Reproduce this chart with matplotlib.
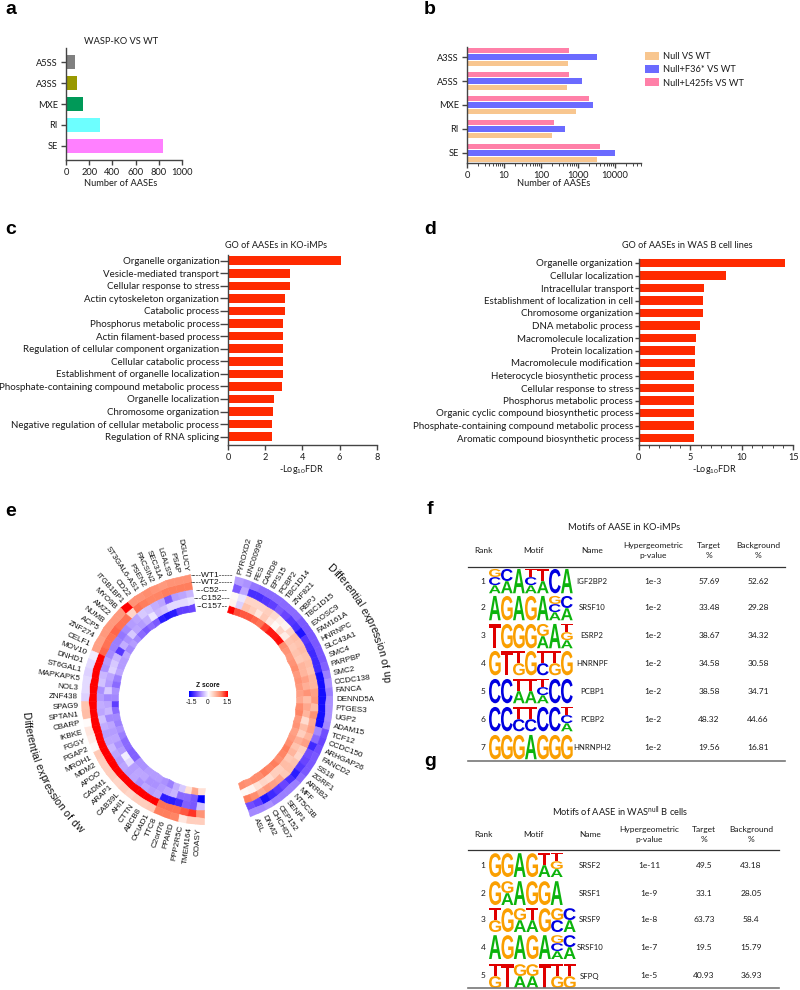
import numpy as np
import matplotlib
matplotlib.use('Agg')
import matplotlib.pyplot as plt
from matplotlib.colors import LinearSegmentedColormap
from matplotlib.font_manager import FontProperties
from matplotlib.patches import PathPatch, Rectangle
from matplotlib.textpath import TextPath, text_to_path
from matplotlib.ticker import LogLocator, NullFormatter
from matplotlib.transforms import Affine2D

W, H = 800, 990

# panel a
a_events = ['SE', 'RI', 'MXE', 'A3SS', 'A5SS']
a_counts = [840, 295, 150, 92, 80]
a_colors = ['#ff80ff', '#6dffff', '#009958', '#999900', '#808080']

# panel b
b_events = ['SE', 'RI', 'MXE', 'A5SS', 'A3SS']
b_null = [3300, 195, 870, 490, 525]
b_f36 = [10200, 437, 2600, 1250, 3250]
b_l425 = [3900, 225, 1950, 570, 570]
b_series = ['Null VS WT', 'Null+F36* VS WT', 'Null+L425fs VS WT']
b_colors = ['#f8c68f', '#6b6bff', '#ff80a8']

# panel c
c_terms = ['Organelle organization', 'Vesicle-mediated transport', 'Cellular response to stress',
           'Actin cytoskeleton organization', 'Catabolic process', 'Phosphorus metabolic process',
           'Actin filament-based process', 'Regulation of cellular component organization',
           'Cellular catabolic process', 'Establishment of organelle localization',
           'Phosphate-containing compound metabolic process', 'Organelle localization',
           'Chromosome organization', 'Negative regulation of cellular metabolic process',
           'Regulation of RNA splicing']
c_vals = [6.1, 3.35, 3.35, 3.07, 3.05, 2.95, 2.95, 2.95, 2.93, 2.93, 2.88, 2.45, 2.43, 2.35, 2.33]

# panel d
d_terms = ['Organelle organization', 'Cellular localization', 'Intracellular transport',
           'Establishment of localization in cell', 'Chromosome organization',
           'DNA metabolic process', 'Macromolecule localization', 'Protein localization',
           'Macromolecule modification', 'Heterocycle biosynthetic process',
           'Cellular response to stress', 'Phosphorus metabolic process',
           'Organic cyclic compound biosynthetic process',
           'Phosphate-containing compound metabolic process',
           'Aromatic compound biosynthetic process']
d_vals = [14.2, 8.5, 6.3, 6.25, 6.2, 5.9, 5.6, 5.45, 5.45, 5.38, 5.38, 5.35, 5.33, 5.33, 5.33]

# panel e, left sector from the top going anticlockwise
left_genes = ['DGLUCY', 'PSAP', 'LGALS9', 'SEC31A', 'PACSIN2', 'PSEN2', 'ST3GAL6-AS1', 'CD22',
              'ITGB1BP1', 'MYO9B', 'AMZ2', 'NUMB', 'ACP5', 'ZNF274', 'CELF1', 'MOV10', 'DNHD1',
              'ST6GAL1', 'MAPKAPK5', 'NOL3', 'ZNF438', 'SPAG9', 'SPTAN1', 'CBARP', 'IKBKE', 'FGGY',
              'PGAP2', 'MROH1', 'MDM2', 'APOO', 'CADM1', 'ARAP1', 'CAB39L', 'AHI1', 'CTTN', 'ABCB8',
              'OCIAD1', 'TTC8', 'C2orf76', 'PPARD', 'PPP2R5C', 'TMEM164', 'COASY']
left_wt1 = [.85, .85, .85, .8, .85, .9, .85, .85, 1.5, .8, .8, .8, .8, .75, .75, -.1, -.2, -.25, -.2, -.2, -.25,
            .5, .55, .03, .2, .15, .05, .45, .4, .4, .4, .35, .4, .35, .4, .4, .45, 1.0, 1.0, .95, .2, .4, .4]
left_wt2 = [1.0, 1.0, 1.0, 1.0, .95, .95, 1.0, 1.05, .35, 1.05, 1.05, 1.1, 1.05, 1.05, 1.1, 1.5, 1.5, 1.5, 1.5, 1.5, 1.5,
            1.5, 1.5, 1.5, 1.5, 1.5, 1.5, 1.5, 1.5, 1.5, 1.5, 1.5, 1.5, 1.5, 1.5, 1.5, 1.5, 1.05, 1.05, 1.05, 1.15, 1.3, .85]
left_c52 = [-.4, -.5, -.55, -.9, -.5, -.45, -.35, -.3, -.5, -.55, -.65, -.75, -.7, -.7, -.65, -.55, -.6, -.4, -.35, -.6, -.55,
            -.45, -.5, -.35, -.45, -.55, -.5, -.4, -.5, -.55, -.5, -.55, -.5, -.6, -.5, -.55, -.5, -1.3, -1.3, -1.2, -.85, -.9, -.35]
left_c152 = [-.15, -.2, -.2, -.2, -.35, -.4, -.15, -.45, -.55, -.5, -.3, -.6, -.45, -1.1, -.4, -.3, -.25, -.5, -.55, -.3, -.65,
             -.5, -.4, -.65, -.5, -.55, -.5, -.6, -.55, -.1, -.2, -.55, -.5, -.5, -.6, -.6, -.55, -.5, -.4, -.8, -.8, -.9, -1.5]
left_c157 = [-1.0, -1.05, -1.05, -1.3, -1.35, -1.3, -.9, -.8, -.9, -.8, -.65, -.55, -.65, -.5, -.55, -.55, -.5, -.7, -.8, -.6, -.65,
             -1.05, -.8, -.65, -.7, -.6, -.7, -.8, -.8, -.85, -.85, -.6, -.6, -.55, -.55, -.55, -.6, -.7, -.45, -.3, .25, .7, .25]

# panel e, right sector from the top going clockwise
right_genes = ['PYROXD2', 'LINC00996', 'FES', 'CARD8', 'EPS15', 'PCBP2', 'TBC1D14', 'ZNF821', 'RBPJ', 'TBC1D15',
               'EXOSC9', 'FAM161A', 'HNRNPC', 'SLC43A1', 'SMC4', 'PARPBP', 'SMC2', 'CCDC138', 'FANCA', 'DENND5A',
               'PTGES3', 'UGP2', 'ADAM15', 'TCF12', 'CCDC150', 'ARHGAP26', 'FANCD2', 'SS18', 'ZGRF1', 'ARRB2', 'MFF',
               'NT5C3B', 'SENP1', 'CEP152', 'CHCHD7', 'DNM2', 'ASL']
right_wt1 = [-.55, -.6, -.75, -.8, -.8, -.8, -.8, -.8, -.8, -.9, -.9, -.9, -.9, -.9, -.9, -.85, -.7, -.6, -.7, -.6, -.6, -.6,
             -.65, -.95, -1.0, -.95, -.9, -.9, -.9, -.8, -.7, -.7, -.7, -.7, -.6, -.65, -.65]
right_wt2 = [-.9, -.5, -1.15, -1.15, -1.1, -1.05, -.9, -1.0, -1.1, -1.15, -1.35, -1.1, -1.15, -1.2, -1.2, -1.2, -1.4, -1.4, -1.4,
             -1.4, -1.4, -1.4, -1.4, -.65, -.8, -1.2, -.95, -1.0, -1.1, -1.3, -1.15, -1.0, -1.1, -1.2, -1.35, -1.05, -.95]
right_c52 = [.05, -.15, .35, .35, .35, .4, .3, .15, .1, .35, .55, .5, .55, .5, .55, .5, .6, .6, .75, .8, .55, .85,
             .7, .75, .6, .75, .4, .35, .5, .55, .45, .7, .75, .8, .7, .9, 1.0]
right_c152 = [.1, -.25, .5, .4, .2, .45, .2, .05, .35, .15, .5, .45, .5, .45, .6, .6, .75, .65, .85, .55, .7, .6,
              .3, .55, .4, .65, .5, .6, .45, .55, .4, .4, .3, .35, .25, .1, .05]
right_c157 = [1.5, 1.2, 1.15, 1.15, 1.1, 1.05, 1.25, 1.4, 1.4, 1.45, .9, .85, .8, .85, .9, .8, .85, .8, .75, .7, .9, .95,
              .8, .85, .75, .8, .9, 1.0, .95, .9, 1.0, .95, 1.0, .9, .9, .85, .9]
ring_names = ['----WT1-----', '----WT2-----', '---C52---', '---C152---', '--C157--']

# panel f
f_motifs = [['GCA', 'CA', 'A', 'TCA', 'TA', 'C', 'A'],
            ['A', 'G', 'A', 'G', 'A', 'GCA', 'CA'],
            ['T', 'G', 'G', 'G', 'GA', 'A', 'TGA'],
            ['G', 'T', 'TG', 'G', 'TC', 'TG', 'G'],
            ['C', 'C', 'TA', 'TA', 'TCA', 'C', 'C'],
            ['C', 'C', 'TC', 'TC', 'C', 'C', 'TCA'],
            ['G', 'G', 'G', 'A', 'G', 'G', 'G']]
f_names = ['IGF2BP2', 'SRSF10', 'ESRP2', 'HNRNPF', 'PCBP1', 'PCBP2', 'HNRNPH2']
f_pvals = ['1e-3', '1e-2', '1e-2', '1e-2', '1e-2', '1e-2', '1e-2']
f_target = ['57.69', '33.48', '38.67', '34.58', '38.58', '48.32', '19.56']
f_backgr = ['52.62', '29.28', '34.32', '30.58', '34.71', '44.66', '16.81']

# panel g
g_motifs = [['G', 'G', 'A', 'G', 'TA', 'TGA'],
            ['G', 'GA', 'A', 'G', 'G', 'A'],
            ['TG', 'G', 'GA', 'TA', 'G', 'GC', 'CA'],
            ['A', 'G', 'A', 'G', 'A', 'GCA', 'CA'],
            ['TG', 'T', 'GA', 'GA', 'T', 'TG', 'TG']]
g_names = ['SRSF2', 'SRSF1', 'SRSF9', 'SRSF10', 'SFPQ']
g_pvals = ['1e-11', '1e-9', '1e-8', '1e-7', '1e-5']
g_target = ['49.5', '33.1', '63.73', '19.5', '40.93']
g_backgr = ['43.18', '28.05', '58.4', '15.79', '36.93']

logo_colors = {'A': '#0cb30c', 'C': '#0000e0', 'G': '#fa9f00', 'T': '#e00000'}

SANS = 'Lato'
ARIAL = 'Liberation Sans'
plt.rcParams['font.family'] = SANS
plt.rcParams['mathtext.default'] = 'regular'
AXC = '#444444'


def px_axes(x0, y0, x1, y1, **kw):
    # axes from pixel box, y0 is the top edge
    return fig.add_axes([x0 / W, 1 - y1 / H, (x1 - x0) / W, (y1 - y0) / H], **kw)


def style(ax, size=6.7):
    for s in ['top', 'right']:
        ax.spines[s].set_visible(False)
    for s in ['left', 'bottom']:
        ax.spines[s].set_color(AXC)
        ax.spines[s].set_linewidth(1.0)
    ax.tick_params(length=3.8, width=1.0, color=AXC, labelsize=size, pad=2, labelcolor='#1a1a1a')
    ax.patch.set_alpha(0)


def label(x, y, s, size=6.7, **kw):
    kw.setdefault('ha', 'center')
    kw.setdefault('va', 'center')
    kw.setdefault('color', '#1a1a1a')
    page.text(x, y, s, fontsize=size, **kw)


def draw_logo(x0, x1, y_mid, height, motif):
    fp = FontProperties(family=ARIAL, weight='bold')
    step = (x1 - x0) / len(motif)
    for i, stack in enumerate(motif):
        h = height / len(stack)
        for j, letter in enumerate(stack):
            path = TextPath((0, 0), letter, size=10, prop=fp)
            bb = path.get_extents()
            top = y_mid - height / 2 + j * h
            tr = (Affine2D().translate(-bb.x0, -bb.y0)
                  .scale((step - 0.3) / bb.width, -(h - 0.2) / bb.height)
                  .translate(x0 + i * step, top + h))
            page.add_patch(PathPatch(path, transform=tr + page.transData, fc=logo_colors[letter], lw=0))


def motif_table(title, title_x, title_y, head_y, rule_y, end_y, rule_x1, cols, rows_y, logo_h,
                motifs, names, pvals, target, backgr, x_end):
    label(title_x, title_y, title, 6.7)
    label(cols[0], head_y, 'Rank', 6.0)
    label(cols[1], head_y, 'Motif', 6.0)
    label(cols[2], head_y, 'Name', 6.0)
    label(cols[3], head_y, 'Hypergeometric\np-value', 6.0, linespacing=1.35)
    label(cols[4], head_y, 'Target\n%', 6.0, linespacing=1.35)
    label(cols[5], head_y, 'Background\n%', 6.0, linespacing=1.35)
    page.plot([468, rule_x1], [rule_y, rule_y], color='#333333', lw=0.9)
    page.plot([468, rule_x1], [end_y, end_y], color='#777777', lw=1.2)
    for i, y in enumerate(rows_y):
        label(cols[0], y, str(i + 1), 6.0)
        draw_logo(489, x_end[len(motifs[i])], y, logo_h, motifs[i])
        label(cols[2], y, names[i], 5.6)
        label(cols[3], y, pvals[i], 6.0)
        label(cols[4], y, target[i], 6.0)
        label(cols[5], y, backgr[i], 6.0)


fig = plt.figure(figsize=(W / 100, H / 100), dpi=100, facecolor='white')
page = fig.add_axes([0, 0, 1, 1], zorder=5)
page.set_xlim(0, W)
page.set_ylim(H, 0)
page.axis('off')

for s, x, y in [('a', 11, 9), ('b', 430, 9), ('c', 11, 229), ('d', 430, 229),
                ('e', 11, 511), ('f', 430, 509), ('g', 430, 761)]:
    label(x, y, s, 14, fontweight='bold', color='black', family=ARIAL)

# a
ax = px_axes(66, 48, 182, 160)
style(ax)
ax.barh(np.arange(5), a_counts, height=0.67, color=a_colors)
ax.set_xlim(0, 1000)
ax.set_ylim(-0.67, 4.67)
ax.set_yticks(np.arange(5))
ax.set_yticklabels(a_events)
ax.set_xticks(np.arange(0, 1001, 200))
label(120.7, 41, 'WASP-KO VS WT')
label(121, 184, 'Number of AASEs')

# b
ax = px_axes(467, 46.7, 641, 163.3)
style(ax)
ypos = np.arange(5)
ax.barh(ypos - 0.275, b_null, height=0.24, color=b_colors[0], left=1)
ax.barh(ypos, b_f36, height=0.24, color=b_colors[1], left=1)
ax.barh(ypos + 0.275, b_l425, height=0.24, color=b_colors[2], left=1)
ax.set_xscale('log')
ax.set_xlim(1, 10 ** (174 / 37))
ax.set_ylim(-0.43, 4.43)
ax.set_yticks(ypos)
ax.set_yticklabels(b_events)
ax.set_xticks([1, 10, 100, 1000, 10000])
ax.set_xticklabels(['0', '10', '100', '1000', '10000'])
ax.xaxis.set_minor_locator(LogLocator(base=10, subs=np.arange(2, 10), numticks=12))
ax.xaxis.set_minor_formatter(NullFormatter())
ax.tick_params(axis='x', which='minor', length=2, width=0.7, color=AXC)
label(554, 184, 'Number of AASEs')
for name, col, y in zip(b_series, b_colors, [55.5, 68.5, 82]):
    page.add_patch(Rectangle((645, y - 4), 14, 8, fc=col, lw=0))
    label(663, y + 1, name, 6.7, ha='left')


def go_panel(x0, x1, y_top, terms, vals, xmax, ticks, minor, title_xy, xlab_xy):
    ax = px_axes(x0, y_top, x1, 445)
    style(ax, 6.6)
    n = len(vals)
    first = 260.7 if xmax == 8 else 263
    pitch = 12.57 if xmax == 8 else 12.5
    ax.barh(np.arange(n), vals, height=8.5 / pitch, color='#ff2a00')
    ax.set_xlim(0, xmax)
    ax.set_ylim((445 - first) / pitch, (y_top - first) / pitch)
    ax.set_yticks(np.arange(n))
    ax.set_yticklabels(terms, fontsize=7.0)
    ax.set_xticks(ticks)
    if minor:
        ax.set_xticks(np.arange(0, xmax + 1), minor=True)
        ax.tick_params(axis='x', which='minor', length=2, width=0.7, color=AXC)
    ax.tick_params(axis='y', length=5.5 if xmax == 8 else 3, pad=1)
    label(title_xy[0], title_xy[1], title_xy[2], 6.6)
    label(xlab_xy[0], xlab_xy[1], '-Log$_{10}$FDR', 6.5)


go_panel(228.3, 376.7, 255, c_terms, c_vals, 8, [0, 2, 4, 6, 8], False,
         (276, 245.7, 'GO of AASEs in KO-iMPs'), (301.7, 470))
go_panel(638.7, 793.3, 259, d_terms, d_vals, 15, [0, 5, 10, 15], True,
         (687, 245.7, 'GO of AASEs in WAS B cell lines'), (714, 469))

# e
cmap = LinearSegmentedColormap.from_list('zs', [(0, '#0000ff'), (1 / 6, '#6a45ff'), (2 / 6, '#bca5ff'), (0.5, '#ffffff'),
                                                (4 / 6, '#ffc3ae'), (5 / 6, '#ff7f5e'), (1, '#ff0000')])
R_OUT, R_IN = 126.0, 89.0
STEP = np.deg2rad(3.97)
CX, CY = 207, 699
pol = px_axes(CX - R_OUT, CY - R_OUT, CX + R_OUT, CY + R_OUT, projection='polar')
pol.set_theta_zero_location('N')
pol.set_theta_direction(-1)
pol.set_ylim(0, R_OUT)
pol.axis('off')
r_edges = np.linspace(R_IN, R_OUT, 6)
left_z = np.array([left_c157, left_c152, left_c52, left_wt2, left_wt1])
right_z = np.array([right_c157, right_c152, right_c52, right_wt2, right_wt1])
theta_r = np.deg2rad(13.0) + STEP * np.arange(len(right_genes) + 1)
theta_l = np.deg2rad(352.3) - STEP * np.arange(len(left_genes) + 1)
pol.pcolormesh(theta_r, r_edges, right_z, cmap=cmap, vmin=-1.5, vmax=1.5, shading='flat',
               edgecolors='face', linewidth=0.4, antialiased=True)
pol.pcolormesh(theta_l, r_edges, left_z, cmap=cmap, vmin=-1.5, vmax=1.5, shading='flat',
               edgecolors='face', linewidth=0.4, antialiased=True)

for i, g in enumerate(right_genes):
    a = theta_r[i] + STEP / 2
    rot = np.degrees(np.arctan2(np.cos(a), np.sin(a)))
    pol.text(a, R_OUT + 3, g, rotation=rot, rotation_mode='anchor', ha='left', va='center',
             fontsize=5.8, family=ARIAL, clip_on=False, color='#111111')
for i, g in enumerate(left_genes):
    a = theta_l[i] - STEP / 2
    rot = np.degrees(np.arctan2(-np.cos(a), -np.sin(a)))
    pol.text(a, R_OUT + 3, g, rotation=rot, rotation_mode='anchor', ha='right', va='center',
             fontsize=5.8, family=ARIAL, clip_on=False, color='#111111')


def arc_text(s, start_deg, radius, clockwise, size=7.7):
    fp = FontProperties(family=ARIAL, size=size)
    a = np.deg2rad(start_deg)
    sign = 1 if clockwise else -1
    for k, ch in enumerate(s):
        w0 = text_to_path.get_text_width_height_descent(s[:k], fp, False)[0] if k else 0
        w1 = text_to_path.get_text_width_height_descent(s[:k + 1], fp, False)[0]
        t = a + sign * ((w0 + w1) / 2 * 100 / 72) / radius
        rot = np.degrees(np.arctan2(np.cos(t), np.sin(t))) + (-90 if clockwise else 90)
        pol.text(t, radius, ch, rotation=rot, rotation_mode='anchor', ha='center', va='center',
                 fontsize=size, family=ARIAL, clip_on=False, color='#111111')


arc_text('Differential expression of up', 42.5, 180, True)
arc_text('Differential expression of dw', 266, 182, False)

for name, y in zip(ring_names, [575.7, 583, 591, 598.7, 606.7]):
    label(212, y, name, 6, family=ARIAL, color='#111111')

cb = px_axes(189, 690.7, 227.7, 697)
cb.imshow(np.linspace(-1.5, 1.5, 100)[None, :], cmap=cmap, vmin=-1.5, vmax=1.5, aspect='auto',
          extent=[-1.6, 1.6, 0, 1])
cb.axis('off')
label(208, 685.7, 'Z score', 4.8, fontweight='bold', family=ARIAL, color='#111111')
for v, x in zip(['-1.5', '0', '1.5'], [191, 208, 226.7]):
    label(x, 702.5, v, 4.8, family=ARIAL, color='#111111')

# f
motif_table('Motifs of AASE in KO-iMPs', 624, 528, 550.5, 566.7, 761, 785,
            [483, 533, 592, 653, 709, 758], [581, 608, 636, 663, 691, 719, 747], 24.5,
            f_motifs, f_names, f_pvals, f_target, f_backgr, {7: 573})
# g
motif_table('Motifs of AASE in WAS$^{null}$ B cells', 620, 812, 834.5, 850, 988, 779,
            [483, 533, 590, 649, 704, 751], [865, 893, 920, 947, 976], 24,
            g_motifs, g_names, g_pvals, g_target, g_backgr, {6: 563, 7: 576})

fig.savefig('out.png', dpi=100)
